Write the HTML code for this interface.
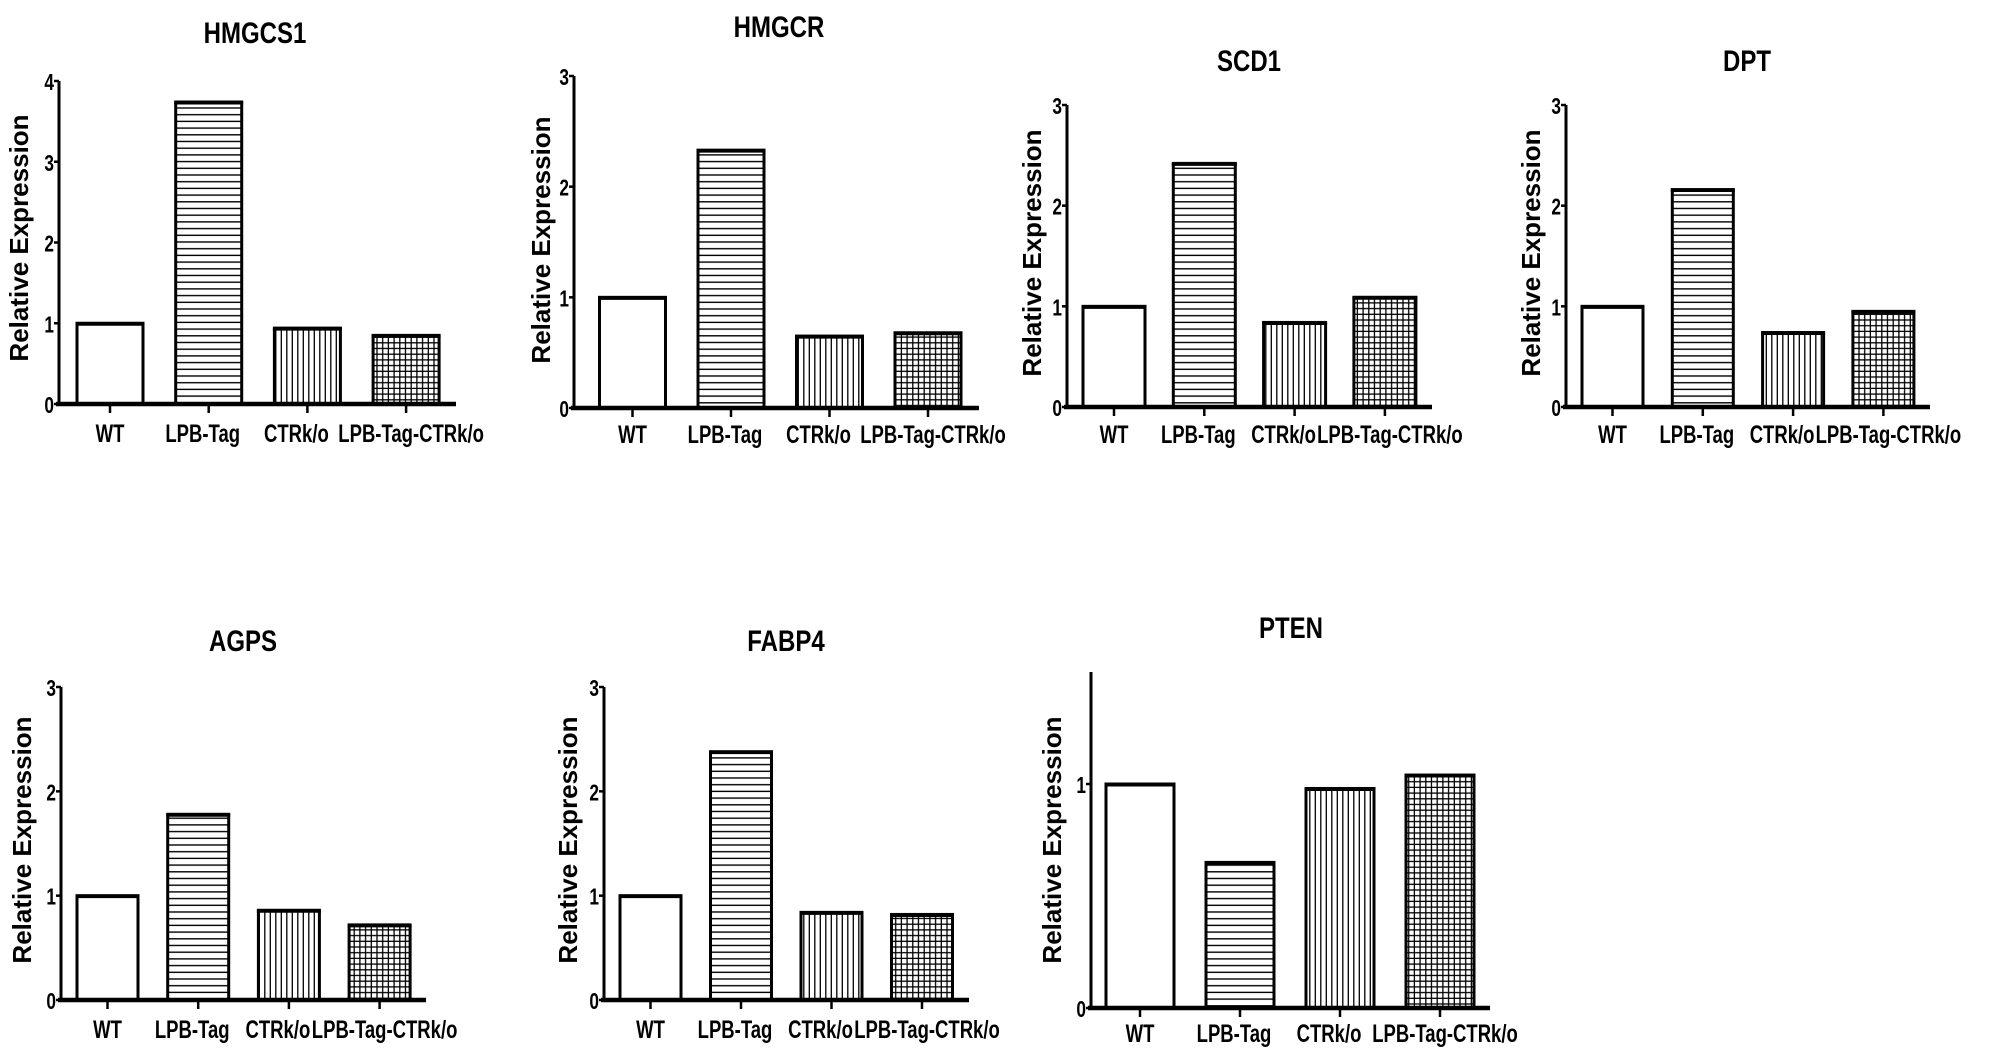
<!DOCTYPE html>
<html><head><meta charset="utf-8">
<style>
html,body{margin:0;padding:0;background:#fff;}
svg{display:block;}
text{font-family:"Liberation Sans",sans-serif;font-weight:bold;fill:#000;}
</style></head>
<body>
<svg id="fig" width="2000" height="1059" viewBox="0 0 2000 1059" xmlns="http://www.w3.org/2000/svg">
<defs>
<pattern id="ph" patternUnits="userSpaceOnUse" width="8" height="6.7"><rect width="8" height="6.7" fill="#fff"/><line x1="0" y1="0.8" x2="8" y2="0.8" stroke="#000" stroke-width="1.4"/></pattern>
<pattern id="pv" patternUnits="userSpaceOnUse" width="5.5" height="8"><rect width="5.5" height="8" fill="#fff"/><line x1="0.8" y1="0" x2="0.8" y2="8" stroke="#000" stroke-width="1.3"/></pattern>
<pattern id="pg" patternUnits="userSpaceOnUse" width="5.7" height="5.7"><rect width="5.7" height="5.7" fill="#fff"/><line x1="0.8" y1="0" x2="0.8" y2="5.7" stroke="#000" stroke-width="1.3"/><line x1="0" y1="0.8" x2="5.7" y2="0.8" stroke="#000" stroke-width="1.3"/></pattern>
</defs>
</svg>
<script>
const categories = ["WT","LPB-Tag","CTRk/o","LPB-Tag-CTRk/o"];
const genes = ["HMGCS1","HMGCR","SCD1","DPT","AGPS","FABP4","PTEN"];
const valsHMGCS1 = [1, 3.74, 0.94, 0.85];
const valsHMGCR = [1, 2.33, 0.65, 0.68];
const valsSCD1 = [1, 2.42, 0.84, 1.09];
const valsDPT = [1, 2.16, 0.74, 0.95];
const valsAGPS = [1, 1.78, 0.86, 0.72];
const valsFABP4 = [1, 2.38, 0.84, 0.82];
const valsPTEN = [1, 0.65, 0.98, 1.04];
const ticksHMGCS1 = [0,1,2,3,4];
const ticks3 = [0,1,2,3];
const ticksPTEN = [0,1];
const yMaxes = [4,3,3,3,3,3,1.5];

const svg = document.getElementById('fig');
const NS = 'http://www.w3.org/2000/svg';
function mk(tag, attrs, parent){const e=document.createElementNS(NS,tag);for(const k in attrs)e.setAttribute(k,attrs[k]);(parent||svg).appendChild(e);return e;}
function squeeze(t, f){const w=t.getComputedTextLength();if(w>0){t.setAttribute('textLength',(w*f).toFixed(1));t.setAttribute('lengthAdjust','spacingAndGlyphs');}}

const layouts = [
 {ax:59, top:81, zero:404, xe:456, tx:255, ty:32, yx:19, yc:238, ly:432, b0:110, step:98.7, bw:66},
 {ax:574, top:76, zero:408, xe:979, tx:779, ty:26, yx:541, yc:240, ly:433, b0:632.5, step:98.5, bw:66},
 {ax:1067, top:105, zero:407, xe:1432, tx:1249, ty:60, yx:1032, yc:253, ly:433, b0:1114, step:90.3, bw:62},
 {ax:1566, top:105, zero:407, xe:1930, tx:1747, ty:60, yx:1531, yc:253, ly:433, b0:1612.5, step:90.3, bw:61},
 {ax:61, top:687, zero:1000, xe:426, tx:243, ty:640, yx:22, yc:840, ly:1028, b0:107.5, step:90.7, bw:61},
 {ax:604, top:687, zero:1000, xe:969, tx:786, ty:640, yx:568, yc:840, ly:1028, b0:650.5, step:90.5, bw:61},
 {ax:1091, top:672, zero:1008, xe:1490, tx:1291, ty:627, yx:1052, yc:840, ly:1032, b0:1140, step:100, bw:68}
];
const labelShift = [0,-6,-11,5];
const valueSets = [valsHMGCS1,valsHMGCR,valsSCD1,valsDPT,valsAGPS,valsFABP4,valsPTEN];
const tickSets = [ticksHMGCS1,ticks3,ticks3,ticks3,ticks3,ticks3,ticksPTEN];
const fills = ['#fff','url(#ph)','url(#pv)','url(#pg)'];

genes.forEach((g,i)=>{
  const L = layouts[i], vals = valueSets[i], ymax = yMaxes[i];
  const y = v => L.zero - (L.zero - L.top) * v / ymax;
  const grp = mk('g',{});
  
  
  const t = mk('text',{x:L.tx,y:L.ty+11,'font-size':30,'text-anchor':'middle'},grp);
  t.textContent = g;
  
  
  squeeze(t, 0.8);
  const yt = mk('text',{x:L.yx,y:L.yc,'font-size':26,'text-anchor':'middle',transform:'rotate(-90 '+L.yx+' '+L.yc+')','dominant-baseline':'central'},grp);
  yt.textContent = 'Relative Expression';
  
  
  vals.forEach((v,j)=>{
    const cx = L.b0 + j*L.step;
    const r = mk('rect',{x:cx-L.bw/2,y:y(v),width:L.bw,height:L.zero-y(v),fill:fills[j],stroke:'#000','stroke-width':3},grp);
    
    
    mk('line',{x1:cx-L.bw/2-1.5,y1:y(v)+1,x2:cx+L.bw/2+1.5,y2:y(v)+1,stroke:'#000','stroke-width':3},grp);
    mk('line',{x1:cx,y1:L.zero,x2:cx,y2:L.zero+9,stroke:'#000','stroke-width':2.5},grp);
    const lb = mk('text',{x:cx+labelShift[j],y:L.ly+10,'font-size':25,'text-anchor':'middle'},grp);
    lb.textContent = categories[j];
    
    
    squeeze(lb, 0.74);
  });
  const ya = mk('line',{x1:L.ax,y1:L.top,x2:L.ax,y2:L.zero+2,stroke:'#000','stroke-width':3},grp);
  
  
  const xa = mk('line',{x1:L.ax-3,y1:L.zero,x2:L.xe,y2:L.zero,stroke:'#000','stroke-width':4.5},grp);
  
  
  tickSets[i].forEach(tv=>{
    const ty = y(tv);
    mk('line',{x1:L.ax-5,y1:ty,x2:L.ax,y2:ty,stroke:'#000','stroke-width':2.5},grp);
    const tl = mk('text',{x:L.ax-5,y:ty+9,'font-size':23,'text-anchor':'end'},grp);
    tl.textContent = String(tv);
    
    
    squeeze(tl, 0.75);
  });
});
</script>
</body></html>
